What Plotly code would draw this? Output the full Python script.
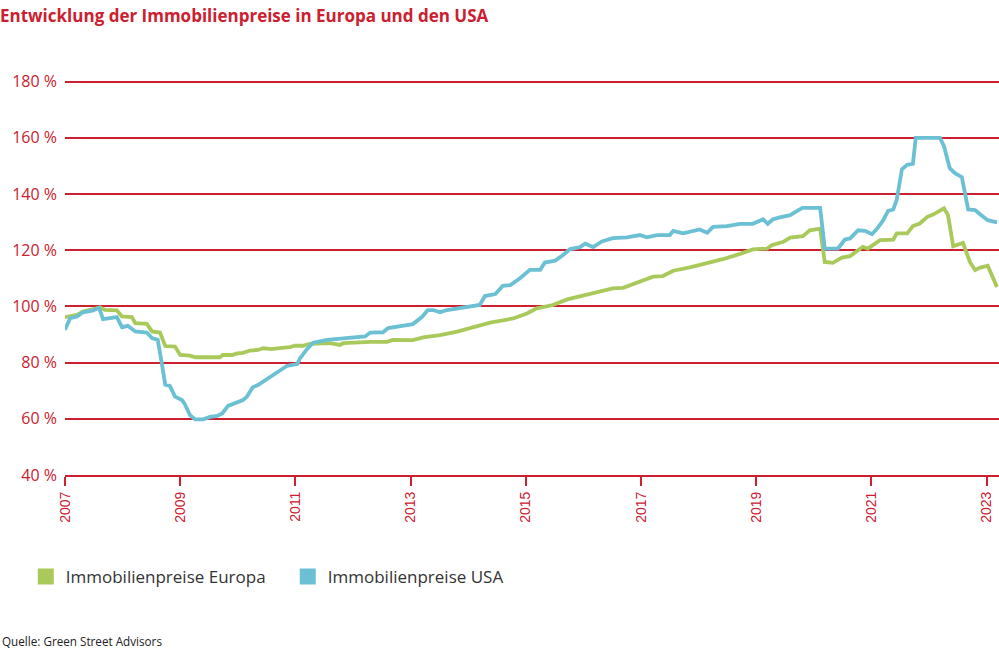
import plotly.graph_objects as go

# ---- data (decimal years, index values in %) ----
usa_x = [2007.00, 2007.09, 2007.21, 2007.31, 2007.49, 2007.59, 2007.66, 2007.82, 2007.90, 2007.99,
         2008.09, 2008.22, 2008.42, 2008.51, 2008.61, 2008.68, 2008.74, 2008.82, 2008.91, 2009.03,
         2009.08, 2009.17, 2009.26, 2009.40, 2009.52, 2009.64, 2009.73, 2009.83, 2009.95, 2010.09,
         2010.16, 2010.26, 2010.35, 2010.47, 2010.59, 2010.70, 2010.85, 2011.03, 2011.08, 2011.20,
         2011.31, 2011.55, 2011.83, 2012.07, 2012.21, 2012.30, 2012.52, 2012.61, 2012.76, 2012.87,
         2013.04, 2013.20, 2013.30, 2013.39, 2013.51, 2013.63, 2013.81, 2014.00, 2014.20, 2014.29,
         2014.47, 2014.60, 2014.73, 2014.90, 2015.07, 2015.25, 2015.33, 2015.51, 2015.63, 2015.77,
         2015.94, 2016.03, 2016.17, 2016.32, 2016.51, 2016.76, 2016.98, 2017.10, 2017.28, 2017.50,
         2017.56, 2017.73, 2017.89, 2018.02, 2018.15, 2018.25, 2018.49, 2018.72, 2018.94, 2019.12,
         2019.20, 2019.29, 2019.41, 2019.59, 2019.67, 2019.80, 2020.11, 2020.19, 2020.42, 2020.54,
         2020.63, 2020.77, 2020.89, 2021.01, 2021.10, 2021.20, 2021.29, 2021.38, 2021.44, 2021.53,
         2021.62, 2021.72, 2021.77, 2022.19, 2022.26, 2022.36, 2022.45, 2022.57, 2022.68, 2022.80,
         2022.89, 2023.02, 2023.18]
usa_y = [91.7, 95.8, 96.4, 97.9, 98.6, 99.6, 95.5, 95.8, 96.2, 92.6,
         93.1, 91.1, 90.7, 88.7, 88.1, 79.8, 72.1, 71.7, 67.9, 66.7,
         65.2, 61.3, 59.8, 59.8, 60.7, 61.0, 61.9, 64.6, 65.5, 66.7,
         67.9, 71.2, 72.0, 73.6, 75.0, 76.8, 78.8, 79.5, 81.5, 84.8,
         87.1, 88.1, 88.5, 89.0, 89.3, 90.7, 90.8, 92.3, 92.9, 93.1,
         93.7, 96.3, 98.7, 98.7, 97.9, 98.7, 99.3, 100.1, 100.5, 103.7,
         104.4, 107.3, 107.6, 110.0, 113.0, 113.0, 115.6, 116.3, 118.0, 120.4,
         121.1, 122.3, 121.1, 123.1, 124.3, 124.6, 125.4, 124.6, 125.4, 125.4,
         126.9, 126.0, 126.9, 127.4, 126.2, 128.3, 128.6, 129.4, 129.4, 131.0,
         129.4, 131.0, 131.7, 132.5, 133.5, 135.1, 135.1, 120.6, 120.6, 123.8,
         124.2, 127.1, 126.9, 125.7, 127.7, 130.5, 134.0, 134.5, 138.0, 148.8,
         150.4, 150.7, 160.0, 160.0, 157.0, 149.2, 147.4, 146.0, 134.5, 134.3,
         132.7, 130.7, 129.9]

eu_x = [2007.00, 2007.21, 2007.31, 2007.61, 2007.69, 2007.90, 2007.99, 2008.16, 2008.22, 2008.42,
        2008.51, 2008.65, 2008.74, 2008.91, 2009.00, 2009.17, 2009.26, 2009.69, 2009.74, 2009.90,
        2009.99, 2010.09, 2010.21, 2010.35, 2010.44, 2010.59, 2010.68, 2010.91, 2010.99, 2011.13,
        2011.25, 2011.60, 2011.77, 2011.83, 2012.30, 2012.59, 2012.69, 2013.04, 2013.22, 2013.51,
        2013.81, 2014.15, 2014.38, 2014.78, 2015.02, 2015.19, 2015.47, 2015.72, 2015.94, 2016.24,
        2016.51, 2016.69, 2016.98, 2017.21, 2017.38, 2017.56, 2017.85, 2018.15, 2018.42, 2018.72,
        2018.94, 2019.19, 2019.27, 2019.47, 2019.59, 2019.81, 2019.93, 2020.11, 2020.19, 2020.33,
        2020.49, 2020.63, 2020.85, 2020.94, 2021.15, 2021.38, 2021.44, 2021.62, 2021.72, 2021.84,
        2021.97, 2022.07, 2022.26, 2022.33, 2022.42, 2022.59, 2022.71, 2022.80, 2022.89, 2023.02,
        2023.18]
eu_y = [96.2, 97.0, 98.2, 99.6, 98.8, 98.6, 96.4, 96.2, 94.0, 93.8,
        91.1, 90.7, 85.9, 85.7, 82.7, 82.5, 81.9, 81.9, 82.7, 82.7,
        83.3, 83.5, 84.3, 84.5, 85.1, 84.8, 85.1, 85.5, 86.0, 86.0,
        86.7, 86.9, 86.3, 86.9, 87.4, 87.4, 88.1, 88.0, 89.0, 89.8,
        91.0, 92.7, 94.2, 95.7, 97.5, 99.3, 100.5, 102.5, 103.5, 105.2,
        106.4, 106.6, 108.8, 110.6, 110.8, 112.7, 113.9, 115.4, 116.8, 118.7,
        120.3, 120.6, 121.8, 123.0, 124.5, 125.0, 127.1, 127.7, 115.8, 115.5,
        117.4, 117.9, 121.2, 120.6, 123.6, 123.8, 126.0, 126.0, 128.6, 129.5,
        131.9, 132.7, 134.9, 132.5, 121.4, 122.6, 115.8, 112.9, 113.8, 114.5,
        106.9]

x_ticks = [2007, 2009, 2011, 2013, 2015, 2017, 2019, 2021, 2023]
y_ticks = [40, 60, 80, 100, 120, 140, 160, 180]
series_names = ["Immobilienpreise Europa", "Immobilienpreise USA"]
title_text = "Entwicklung der Immobilienpreise in Europa und den USA"
source_text = "Quelle: Green Street Advisors"

RED = "#cc2030"
GREEN = "#a9c95b"
BLUE = "#6cc0d4"
FONT = "Open Sans"

fig = go.Figure()
fig.add_trace(go.Scatter(x=eu_x, y=eu_y, mode="lines", line=dict(color=GREEN, width=3.8),
                         showlegend=False, hoverinfo="skip"))
fig.add_trace(go.Scatter(x=usa_x, y=usa_y, mode="lines", line=dict(color=BLUE, width=3.8),
                         showlegend=False, hoverinfo="skip"))
# legend entries (square swatches)
for name, col in zip(series_names, [GREEN, BLUE]):
    fig.add_trace(go.Scatter(x=[None], y=[None], mode="markers", name=name,
                             marker=dict(symbol="square", size=16, color=col)))

fig.update_layout(
    width=999, height=650,
    margin=dict(l=65, r=0, t=76, b=175),
    paper_bgcolor="white", plot_bgcolor="white",
    font=dict(family=FONT, color=RED),
    title=dict(text=title_text, x=0.0, xref="container", xanchor="left",
               y=0.985, yref="container", yanchor="top",
               font=dict(family=FONT, size=17, color=RED, weight=700)),
    legend=dict(orientation="h", x=-0.042, xanchor="left", y=-0.2557, yanchor="middle",
                entrywidth=217, entrywidthmode="pixels",
                font=dict(family=FONT, size=17, color="#333333")),
    xaxis=dict(range=[2007, 2023.215], tickmode="array", tickvals=x_ticks,
               ticktext=[str(v) for v in x_ticks], tickangle=-90,
               showgrid=False, zeroline=False, showline=True, linecolor=RED, linewidth=2,
               ticks="outside", ticklen=9, tickwidth=2, tickcolor=RED,
               tickfont=dict(family="Liberation Sans", size=14, color=RED)),
    yaxis=dict(range=[40, 182], tickmode="array", tickvals=y_ticks,
               ticktext=[f"{v} %" for v in y_ticks],
               showgrid=True, gridcolor=RED, gridwidth=2, zeroline=False, showline=False,
               ticks="", ticklabelstandoff=7,
               tickfont=dict(family=FONT, size=16, color=RED)),
)

fig.add_annotation(text=source_text, xref="paper", yref="paper", x=-0.0696, y=-0.416,
                   xanchor="left", yanchor="middle", showarrow=False,
                   font=dict(family=FONT, size=11.7, color="#222222"))

fig.write_html("out.html")
